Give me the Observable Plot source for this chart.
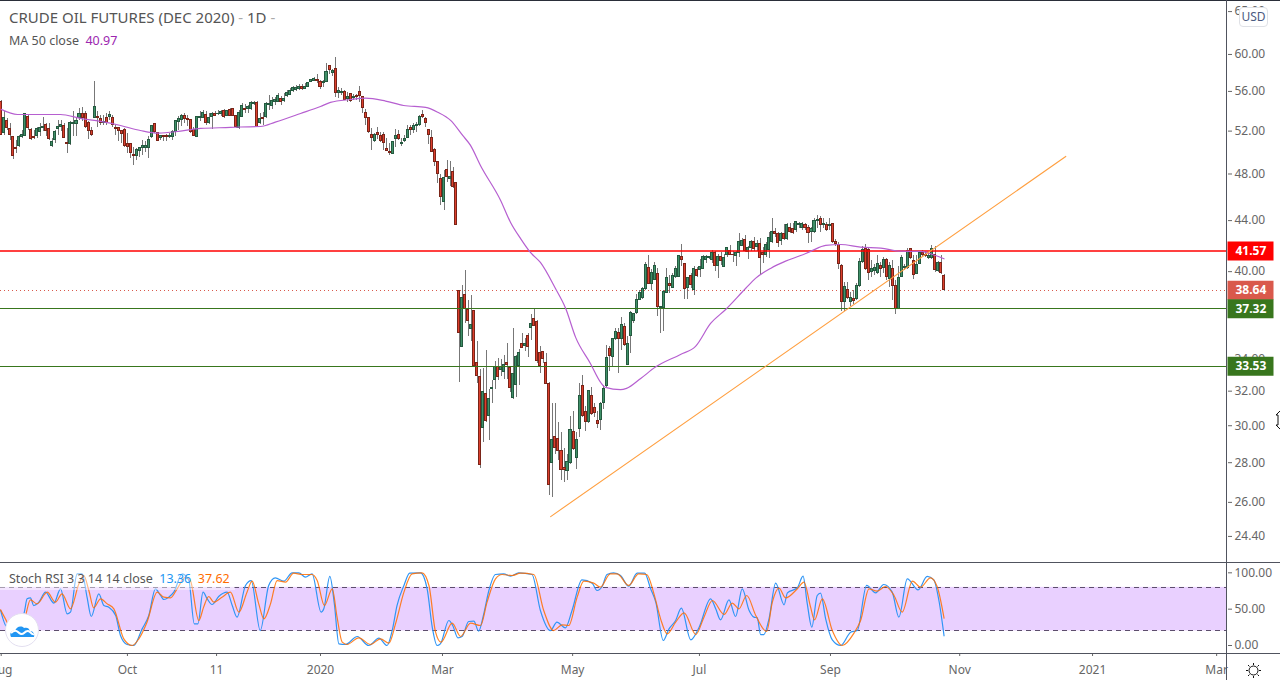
<!DOCTYPE html>
<html>
<head>
<meta charset="utf-8">
<script src="https://cdn.jsdelivr.net/npm/d3@7"></script>
<script src="https://cdn.jsdelivr.net/npm/@observablehq/plot@0.6"></script>
<style>
html,body{margin:0;padding:0;background:#fff;width:1280px;height:680px;overflow:hidden;font-family:"Noto Sans",sans-serif}
#chart{position:relative;width:1280px;height:680px;overflow:hidden}
#chart>div,#chart>svg{position:absolute}
.ttl{color:#555;white-space:nowrap;line-height:1}
</style>
</head>
<body>
<div id="chart"></div>
<script>
// Rows: open, high, low, close
const barsAugSep=[[54.86,55.02,51.61,51.61],[51.84,53.89,51.61,53.24],[52.98,53.24,52.1,52.26],[52.17,52.75,51.13,51.61],[51.39,51.45,49.31,49.6],[50.41,51.13,49.83,50.28],[50.54,51.61,50.48,51.45],[51.39,52.1,51.29,51.61],[51.55,53.73,51.45,53.66],[53.43,53.56,52.1,52.26],[52.1,52.26,51.06,51.26],[51.45,52.1,51.19,51.29],[51.52,52.36,51.29,52.17],[51.87,52.75,51.45,52.3],[52.3,53.34,51.94,52.36],[52.56,52.75,51.45,52.04],[52.17,52.75,51.13,51.26],[50.54,51.29,50.48,50.93],[51.16,52.1,50.8,51.87],[52.23,53.08,51.61,52.36],[52.36,53.08,51.94,52.62],[52.49,52.75,51.26,51.35],[50.9,52.26,49.89,50.77],[50.77,52.91,50.64,52.75],[52.69,53.89,51.45,52.82],[52.72,53.24,51.45,52.98],[53.3,54.21,53.08,53.66],[53.73,54.38,52.91,53.27],[53.73,53.89,52.26,52.43],[52.75,52.91,51.19,52.04],[52.04,52.36,51.45,51.65],[53.3,57.07,53.24,54.44],[53.43,53.89,52.33,53.3],[53.14,53.56,52.59,52.75],[52.75,53.56,52.59,52.85],[53.24,53.73,52.59,52.82],[53.4,53.89,53.08,53.63],[53.24,53.56,52.36,52.62],[52.3,52.59,51.61,52.23],[52.26,52.36,50.96,52.04]];
const barsOctNov=[[51.97,52.1,50.8,51.71],[52.1,52.26,50.48,50.57],[50.8,51.77,49.83,50.48],[50.74,50.8,49.44,49.89],[49.76,50.48,48.75,49.66],[49.6,50.31,49.18,50.22],[50.15,50.48,49.5,50.41],[50.41,51.13,49.66,50.6],[50.41,50.96,49.99,50.6],[50.41,51.45,49.44,51.19],[51.45,52.59,51.29,52.49],[52.65,52.75,51.77,51.94],[51.77,51.84,50.96,51.06],[51.29,51.61,51.06,51.52],[51.52,51.61,50.96,51.39],[51.55,51.71,50.96,51.45],[51.39,51.77,51.29,51.52],[51.45,52.1,51.13,51.94],[51.87,53.08,51.45,52.98],[52.85,53.4,52.1,53.17],[53.08,53.66,52.43,53.53],[53.53,53.73,52.75,53.14],[53.14,53.56,52.43,53.08],[53.08,53.17,51.77,51.94],[52.1,52.36,51.45,51.55],[51.45,53.47,51.39,53.34],[53.27,53.89,52.91,53.34],[53.3,53.99,53.24,53.82],[53.56,53.89,52.59,52.75],[52.75,53.73,52.69,53.3],[53.4,53.79,52.17,53.73],[53.73,53.89,53.4,53.53],[53.66,53.99,53.56,53.73],[53.66,54.05,53.47,53.92],[53.99,54.12,53.24,53.4],[53.47,54.05,53.4,53.95],[54.12,54.21,53.4,53.53],[54.15,54.21,53.4,53.47],[53.47,53.56,52.26,52.36],[52.26,54.05,52.17,53.79]];
const barsDecJan=[[53.36,54.75,53.33,54.51],[54.18,54.68,53.69,54.05],[54.15,54.51,53.75,54.35],[54.18,54.95,54.02,54.79],[54.75,54.95,54.51,54.79],[54.79,54.95,52.32,52.38],[52.8,53.69,52.64,53.19],[53.29,53.85,52.54,53.19],[53.36,54.85,53.19,54.68],[54.61,55.55,54.08,54.75],[54.48,55.37,54.18,55.02],[54.95,55.37,54.51,55.1],[54.92,55.8,54.85,55.55],[55.26,55.44,54.51,54.95],[54.99,55.8,54.85,55.26],[55.48,56.08,55.37,55.83],[55.62,56.26,55.55,56.08],[56,56.5,55.9,56.36],[56.19,56.62,56,56.36],[56.26,56.73,56.08,56.47],[56.47,56.7,56.08,56.22],[56.3,56.8,56.15,56.5],[56.47,56.97,56.36,56.9],[56.97,57.3,56.9,57.2],[57.1,57.5,57.03,57.3],[57.2,57.79,56.8,57.1],[57,57.13,56.22,56.5],[56.87,57.2,56.36,56.97],[57,58.96,56.93,58.08],[58.67,58.82,57.79,58.3],[57.97,58.3,57.57,58.23],[58.4,59.63,55.37,55.8],[55.87,56.36,55.26,56],[55.83,56.26,55.55,55.97],[55.9,56.08,55.02,55.16],[55.26,55.9,54.85,55.4],[55.72,55.8,54.85,54.99],[55.3,55.65,55.02,55.4],[55.51,55.72,55.02,55.37],[55.93,56.5,54.85,55.48]];
const barsFebMar=[[55.37,55.44,53.75,54.28],[53.79,54.18,52.54,53.26],[53.29,53.36,51.74,51.9],[51.65,52.22,50.17,51.36],[51.07,51.74,50.95,51.65],[51.84,52.32,51.17,51.62],[51.55,51.9,50.95,51.04],[51.65,51.9,50.17,50.85],[50.33,51.26,50.02,50.11],[50.05,50.79,49.72,49.93],[49.84,51.04,49.81,50.98],[51.23,52.16,50.48,51.55],[51.65,52.06,51.1,51.23],[50.76,51.26,50.54,50.89],[51.04,51.58,50.95,51.2],[51.33,52.54,51.26,52.06],[52.32,52.54,51.58,52.06],[52.13,52.7,51.74,52.51],[52.51,52.87,51.9,52.61],[52.61,53.52,52.45,53.42],[53.62,54.08,53.19,53.36],[53.23,53.36,52.32,52.77],[52.13,52.19,50.73,51.62],[51.36,52.06,49.93,50.02],[50.17,50.33,48.72,49.11],[49.08,49.11,47.18,48.03],[47.53,47.91,45.25,45.95],[45.53,48.3,44.84,47.62],[48.33,49.26,47.24,47.76],[47.59,49.11,46.89,47.73],[48.15,48.6,46.74,46.89],[47.18,47.24,43.62,43.65]];
const barsMarMay=[[38.55,38.6,32.5,35.65],[34.75,39,34.7,38.1],[38.3,40.1,36.3,37.33],[37.27,37.9,35.45,36.48],[35.95,38.25,35.1,36.2],[37.15,37.2,33.45,33.55],[33.75,35.1,32.45,32.95],[32.85,33.3,27.7,27.9],[29.85,33.4,29.1,31.95],[31.85,34.5,30.2,30.25],[30.55,32.1,29.2,31.55],[32.1,32.65,31.25,32.2],[32.65,33.85,32.1,33.45],[33.45,34,32.65,32.85],[33.28,33.95,32.9,33.5],[33.15,34.2,32.7,33.58],[33.75,35,32.7,33.58],[33.4,33.5,31.9,32.2],[31.6,36,31.5,33.05],[32.35,34.2,31.65,34.1],[33.55,34.6,32.35,34.35],[34.95,35.65,34.65,34.7],[34.8,35.3,34.45,34.95],[35.45,35.65,34.05,34.75],[36.03,36.9,35.2,36.3],[36.6,37.25,36.1,36.15],[36.43,36.5,33.7,33.85],[34.35,34.8,33.1,33.55],[34.4,34.45,33.7,33.95],[33.7,34.3,32.4,32.45],[32.45,32.5,26.35,26.85],[28,31.3,26.25,29.2],[29.4,31.3,28.45,28.8],[29.25,30.2,28.1,28.6],[28.6,29.65,27.1,27.6],[27.7,28.75,27,27.6],[27.55,28.45,27.1,28.05],[28,30.55,27.9,29.75],[29.65,30.8,28.65,28.7],[28.25,29.65,27.65,29.2],[29.8,32.45,29.35,31.7],[32.3,32.95,30.45,30.55],[30.8,31.1,29.7,30.2],[30.2,32.05,30.1,32],[31.7,32.2,30.6,30.65],[31,31.3,30.45,30.75],[30.25,30.8,29.85,30.1],[30.35,31.35,29.75,31.25]];
const barsMayJul=[[31.3,32.35,30.9,32.1],[32.3,34.85,32.2,34.07],[34.65,34.8,33.2,34.15],[34.1,35.3,33.5,35.25],[35.25,35.95,35.2,35.75],[35.7,35.95,33.05,35.25],[35.25,36.75,34.55,36.2],[36.05,36.3,34.8,34.85],[33.6,35.45,33.55,34.95],[35.5,37.1,34.35,37],[36.45,37,36.3,36.95],[37.05,38.3,36.95,37.95],[37.95,38.6,37.9,38.45],[38.1,38.85,38,38.75],[38.7,40.7,38.65,40.5],[40.3,41.2,39.05,39.1],[39.1,40.15,38.6,39.9],[39.4,40.7,39.35,40.4],[39.85,40.2,36.8,37.45],[37.4,37.5,35.65,37.45],[37.4,38.6,35.75,38.5],[38.45,40.2,38.4,39.5],[39.1,39.7,38.4,38.95],[38.8,39.85,38.75,39.7],[39.6,40.35,39.5,40.2],[39.6,41.2,39.55,41.15],[41.1,42.1,40.35,40.85],[40.55,40.6,38,38.7],[38.8,39.6,38,39.5],[39.7,39.85,38.75,39.05],[38.65,40.35,38.25,40.2],[40.1,40.3,39.6,39.7],[40.1,40.95,39.6,40.35],[40.2,41.2,40.15,41.1],[40.85,41.2,40.6,41.1],[41.05,41.15,40.95,41.1],[40.9,41.6,40.6,41.4],[41.45,41.55,40,40.45],[40.45,41.3,39.5,41.1],[41.1,41.45,40.45,40.8]];
const barsJulSep=[[40.35,41.3,40.3,41],[41.3,41.85,41.1,41.8],[41.6,42,41.25,41.3],[41.3,41.55,40.7,41.25],[41.15,41.55,40.4,41.4],[41.4,42.95,41.1,42.3],[42,42.55,41.9,42.35],[42.4,42.8,41.45,41.6],[41.5,41.9,40.95,41.8],[41.8,42.4,41.55,42.25],[42.3,42.65,41.55,41.7],[41.85,42.4,41.55,42.1],[42.15,42.55,39.7,41],[41.45,41.85,40.6,41.25],[41.25,42.25,41.1,42.05],[41.65,43.05,41,42.6],[42.3,44.15,42.15,43.05],[43.1,43.35,42.65,42.95],[42.95,43.05,41.85,42.2],[42.35,43.05,42,42.9],[42.9,43.65,42.4,42.5],[42.55,43.75,42.4,43.6],[43.4,43.75,42.95,43.1],[43.35,43.75,42.85,43],[43.2,43.9,43,43.85],[43.6,43.85,43.35,43.7],[43.4,43.85,43.2,43.7],[43.6,43.8,43.2,43.4],[43.4,43.6,42.15,43],[43.05,43.45,42.25,43.35],[43.05,44.15,42.95,44],[44,44.45,43.35,44.05],[44.15,44.3,43.05,43.6],[43.6,44.15,43.35,43.7],[43.65,43.85,43.15,43.2],[43.55,44.15,43.2,43.65],[43.75,43.8,42.15,42.25],[42.3,42.45,41.9,42.1]];
const barsSepOct=[[42.05,42.25,40.15,40.55],[40.4,40.5,37.1,37.8],[37.8,39.2,37.1,38.85],[38.65,39.2,38,38.1],[37.8,38.45,37.45,38.05],[38,38.6,37.6,37.9],[38,39.1,37.9,38.95],[38.95,41,38.85,40.75],[40.7,41.9,40.6,41.65],[41.7,42.1,40.1,40.2],[41.65,41.75,39.35,39.9],[40,40.85,39.6,40.2],[40.05,40.55,39.7,40.3],[39.9,41.2,39.8,40.6],[40.4,40.7,39.55,40.2],[40.25,41.1,39.85,40.9],[40.9,41,39.35,39.6],[39.45,40.7,38.8,40.45],[40.2,40.85,37.9,38.95],[38.95,39.35,36.95,37.32],[37.3,40.35,37.25,39.55],[39.6,41.2,39.55,41],[40.25,40.5,40.1,40.35],[40.3,41.75,40.15,41.55],[41.7,41.8,40.95,41],[40.8,41.25,39.4,39.75],[39.85,41.25,39.8,40.5],[40.55,41.5,40.5,41.4],[41.45,41.6,41.15,41.3],[41.3,41.5,41.1,41.15],[41,41.4,40.95,41.2],[41,42,40.95,41.75],[41.3,41.9,39.95,40.1],[40.05,40.75,39.95,40.65],[40.65,41.25,39.8,39.9],[39.7,39.8,38.55,38.64]];

const maBars=[0,5.4,9.7,19.7,26.3,33,39.6,46.2,52.2,59.5,66.2,76.1,79.4,86.1,91,99.4,106,109.3,116,121,127.6,133.6,140.9,144.9,149.2,153.2,155.8,159.1,165.8,169.1,172.4,175.7,179,184,187.4,190.7,195.6,199,200.6,205.6,207.6,212.3,217.2,225.5,230.5,235.5,240.5,247.1,250.4,255.4,260.4,265.4,268.7,273.7,278.7,285.3,292,298.6,305.2,310.2,313];
const maValues=[54.15,53.64,53.64,53.64,53.25,52.95,52.55,52.06,51.8,52,52.26,52.36,52.4,52.45,52.88,53.74,54.45,54.86,55.16,55.3,55,54.55,54.35,53.87,53.05,51.58,50.63,48.77,45.69,43.85,42.56,41.46,40.69,38.76,37.34,35.38,33.7,32.53,32.23,32.09,32.17,32.77,33.47,34.27,34.79,36.31,37.27,38.76,39.5,40.24,40.79,41.22,41.54,42.01,42.08,41.87,41.8,41.56,41.54,41.22,40.97];

const trendBars=[182.4,353.4];
const trendPrices=[25.32,49.6];

const levelPrices=[41.57,38.64,37.32,33.53];
const levelColors=["#ff0000","#d9594c","#38761d","#38761d"];
const priceTicks=[65,60,56,52,48,44,40,34,32,30,28,26,24.4];
const stochTicks=[100,50,0];
const stochBands=[20,80];
const timeTicks=[0,41.9,71.5,106,146.5,189.7,231.8,275.3,318.2,362.3,403.5];
const timeLabels=["Aug","Oct","11","2020","Mar","May","Jul","Sep","Nov","2021","Mar"];

const stochKBars=[-.2,2,4.7,7.5,8.6,9.7,10.8,12.5,14.7,17.5,19.7,21.9,23,25.2,26.9,28.5,29.9,32.4,34.1,35.7,38,39.6,41.8,44,46.8,49,51.2,52.9,54,55.6,57.3,60.1,62.3,64.1,65.3,67,68.4,70,72.2,75,76.7,78.3,81.1,83,86,88.8,91,93.8,96.6,98.8,101,103.2,106.2,107.1,109.1,110.6,112.1,114.3,118.2,122,125.4,128.1,129.8,131.4,133.7,135.6,139.2,141.4,143.1,144.7,145.8,148.6,149.9,151.6,153,155.2,156.9,158.5,160.2,161.9,164.1,166.8,169.1,171.8,176.2,179,182.3,184.5,187.3,189.5,192.8,196.2,197.8,199.5,201.1,203.3,205.6,208.3,211.1,213.6,215.6,217.3,219.8,221.7,223.9,225.8,228.9,231.7,235.5,237.2,238.8,241.6,243.8,246,248.3,249.9,251,252.1,253.2,254.9,257.1,259.9,261,264.3,266.2,267.6,269.1,270.9,272,273.7,275.9,278.7,282,284.2,287.3,290.3,293,295.8,298,300.8,304.4,307.4,309.6,311.3,313];
const stochKValues=[48.2,25,36.7,43.6,64.2,65.6,55,59.6,73.4,58.3,78,43.6,45.9,98.6,98.6,66.5,39.9,71.1,55,52.8,41.3,13.8,1.4,0,22.9,41.3,78,68.8,63.3,66.5,73.4,98.6,89.4,29.8,29.8,73.4,64.2,56.4,67.4,73.4,55,39,82.6,89.4,20.6,82.6,93.1,88.5,100,100,94,98.6,45.9,50.5,95,57.3,2.3,1.4,12.4,0,10.1,0,20.6,55,82.6,99.5,100,78,25.2,0,2.3,34.4,27.5,10.6,12.4,33,33.5,19.7,43.6,75.7,97.7,98.6,95.4,100,97.7,48.2,20.6,32.1,24.3,48.2,90.4,85.8,75.7,81.2,97.7,100,96.3,81.7,99.5,99.5,78,59.6,6.9,22.9,34.4,51.4,7.8,25.2,64.2,50.5,35.3,62.8,39.9,78,48.2,39,38,15.1,15.1,36.7,85.8,56,72.5,79.4,95.4,57.3,25.2,68.8,72,36.7,7.8,0,18.3,20.6,82.6,72.5,83.9,73.4,39,91.7,76.6,95,90.4,61.9,13.36];
const stochDBars=[-.2,1.4,3.1,7.5,9.7,11.9,15.3,18,20.2,23,25.8,27.4,29.1,30.7,33,35.2,37.4,40.7,43.5,45.7,48.4,51.8,54,56.2,58.4,61.2,62.8,65.6,67.2,68.9,70.6,73.3,76.1,78.9,81.6,83.3,85.5,87.2,89.4,91.6,94.4,97.1,99.9,103.2,104.9,107.3,109.9,111.5,113.2,114.8,118.7,122.6,125.9,128.7,130.9,133.7,136.4,139.7,142,144.2,146,149.7,152.5,155.8,159.1,161.3,164.1,166.3,169.6,172.4,176.8,180.1,183.4,186.2,188.4,191.2,193.4,196.7,198.9,202.2,204.5,208.3,211.6,214.3,216.7,218.9,221.1,223.9,226.7,230.6,233.3,236.1,240,242.7,244.9,247.5,250.5,254.1,256,258.2,260.4,264.3,266.5,268.7,270,272.6,275.9,279.2,283.1,285.3,288.1,290.8,293.6,296.4,299.1,302.5,305.2,308.5,310.7,313];
const stochDValues=[49.1,36.7,25.2,34.4,62.8,57.3,73.4,59.6,71.1,50.5,84.9,96.3,75.7,51.8,64.2,57.3,50.5,9.2,0,9.2,32.1,73.4,66.5,65.6,78,94,89.4,34.4,52.8,67.4,59.6,66.5,73.4,45.9,73.4,88.5,57.3,36.7,57.3,89.4,87.2,99.5,97.7,97.7,89.4,55,78,39,4.6,1.4,10.6,1.4,9.2,3.2,29.8,73.4,98.6,100,82.6,18.3,4.6,30.7,12.4,30.7,27.5,59.6,91.7,97.7,96.3,99.5,97.7,48.2,20.6,28.4,27.5,66.5,88.5,85.8,80.3,98.6,98.6,82.6,98.6,97.7,71.1,36.7,16.1,32.1,45,15.1,39,61.9,42.7,58.3,50.5,68.8,41.3,19.3,59.6,78.9,65.6,78,87.2,52.8,35.3,64.2,20.6,0,17,34.4,78,74.8,81.2,68.8,45.9,88.5,80.3,93.1,81.2,37.62];

const bars=[...barsAugSep,...barsOctNov,...barsDecJan,...barsFebMar,...barsMarMay,...barsMayJul,...barsJulSep,...barsSepOct]
  .map(([open,high,low,close],i)=>({i,open,high,low,close}));
const upBars=bars.filter(d=>d.close>=d.open), downBars=bars.filter(d=>d.close<d.open);
const zip=(xs,ys)=>xs.map((x,i)=>({x,y:ys[i]}));

const xDomain=[-0.23,407.1];
const axisFont='"Noto Sans",sans-serif';
const halfBar=0.34;
const labelBox={draw(ctx){ctx.rect(0,-9.5,46,19)}};
const chart=document.getElementById("chart");
const crisp={shapeRendering:"crispEdges"};

const price=Plot.plot({
  width:1280,height:562,marginLeft:0,marginRight:53,marginTop:0,marginBottom:0,
  style:{fontFamily:axisFont,fontSize:"12px",background:"transparent",overflow:"visible"},
  x:{domain:xDomain,axis:null},
  y:{type:"log",domain:[23.24,66.36],axis:null},
  marks:[
    Plot.ruleY([levelPrices[1]],{stroke:levelColors[1],strokeDasharray:"1,3",...crisp}),
    Plot.ruleX(bars,{x:"i",y1:"low",y2:"high",stroke:"#777",...crisp}),
    Plot.rect(upBars,{x1:d=>d.i-halfBar,x2:d=>d.i+halfBar,y1:"open",y2:"close",fill:"#3f9068",stroke:"#24593f",...crisp}),
    Plot.rect(downBars,{x1:d=>d.i-halfBar,x2:d=>d.i+halfBar,y1:"open",y2:"close",fill:"#dc3f2d",stroke:"#7a2418",...crisp}),
    Plot.ruleY([levelPrices[0]],{stroke:levelColors[0],strokeWidth:1.5}),
    Plot.ruleY(levelPrices.slice(2),{stroke:levelColors[2],...crisp}),
    Plot.line(zip(maBars,maValues),{x:"x",y:"y",stroke:"#b65fd0",strokeWidth:1.2,curve:"monotone-x"}),
    Plot.line(zip(trendBars,trendPrices),{x:"x",y:"y",stroke:"#ff9f40",strokeWidth:1.1}),
    Plot.axisY(priceTicks,{anchor:"right",tickSize:4,tickPadding:3,tickFormat:d=>d.toFixed(2),label:null,color:"#666",fontSize:12}),
    Plot.dot(levelPrices,{y:d=>d,frameAnchor:"right",symbol:labelBox,fill:(d,i)=>levelColors[i],stroke:"none"}),
    Plot.text(levelPrices,{y:d=>d,frameAnchor:"right",dx:8,textAnchor:"start",text:d=>d.toFixed(2),fill:"#fff",fontWeight:"bold",fontSize:12})
  ]
});
price.style.left="0px";price.style.top="0px";
price.style.position="absolute";
chart.appendChild(price);

const stoch=Plot.plot({
  width:1280,height:118,marginLeft:0,marginRight:53,marginTop:0,marginBottom:27,
  style:{fontFamily:axisFont,fontSize:"12px",background:"transparent"},
  x:{domain:xDomain,axis:null},
  y:{domain:[-11,114.2],axis:null},
  marks:[
    Plot.rect([stochBands],{y1:d=>d[0],y2:d=>d[1],fill:"#e9d0ff"}),
    Plot.ruleY(stochBands,{stroke:"#5d4e6d",strokeDasharray:"5,4",...crisp}),
    Plot.line(zip(stochKBars,stochKValues),{x:"x",y:"y",stroke:"#2f95f5",strokeWidth:1.2,curve:"monotone-x"}),
    Plot.line(zip(stochDBars,stochDValues),{x:"x",y:"y",stroke:"#ff6d00",strokeWidth:1.2,strokeOpacity:.85,curve:"monotone-x"}),
    Plot.axisY(stochTicks,{anchor:"right",tickSize:4,tickPadding:3,tickFormat:d=>d.toFixed(2),label:null,color:"#666",fontSize:12}),
    Plot.axisX(timeTicks,{anchor:"bottom",tickSize:3,tickPadding:9,tickFormat:(d,i)=>timeLabels[i],label:null,color:"#666",fontSize:12})
  ]
});
stoch.style.left="0px";stoch.style.top="562px";
stoch.style.position="absolute";
chart.appendChild(stoch);

function addDiv(css,html,cls){const e=document.createElement("div");e.style.cssText=css;if(html)e.innerHTML=html;if(cls)e.className=cls;chart.appendChild(e);return e;}
addDiv("left:0;top:0;width:1280px;height:1px;background:#2a2e39");
addDiv("left:0;top:562px;width:1280px;height:1px;background:#50535e");
addDiv("left:0;top:653px;width:1280px;height:1px;background:#50535e");
addDiv("left:1226px;top:0;width:1px;height:680px;background:#50535e");
addDiv("left:9px;top:10px;font-size:15px","CRUDE OIL FUTURES (DEC 2020)<span style='color:#aaa'> - </span>1D<span style='color:#aaa'> -</span>","ttl");
addDiv("left:9px;top:35px;font-size:12.5px","MA 50 close&nbsp; <span style='color:#9c27b0'>40.97</span>","ttl");
addDiv("left:0;top:570px;height:20px;width:235px;background:rgba(255,255,255,.45)");
addDiv("left:9px;top:573px;font-size:12.5px","Stoch RSI 3 3 14 14 close&nbsp; <span style='color:#2196f3'>13.36</span>&nbsp; <span style='color:#ff6d00'>37.62</span>","ttl");
addDiv("left:1239px;top:7px;width:27px;height:18px;border:1px solid #dfe1e6;border-radius:4px;background:#fff;color:#4a5a80;font-size:12px;line-height:18px;text-align:center","USD");

const ns='<svg xmlns="http://www.w3.org/2000/svg" ';
addDiv("left:5px;top:613px;width:34px;height:34px",ns+'width="34" height="34"><circle cx="17" cy="17" r="16.5" fill="#fff" stroke="#e3dff0"/><path d="M6 24c-2-4 1-7 4-6 1-4 6-6 9-3 3-1 5 0 6 3 3 0 5 3 4 6z" fill="#2196f3"/><path d="M6 20c3-3 5-3 7-1s4 3 6 1 4-3 6-1 3 3 4 2" fill="none" stroke="#fff" stroke-width="2"/></svg>');
addDiv("left:1246px;top:661px;width:15px;height:15px",ns+'width="15" height="15" fill="none" stroke="#111"><circle cx="7.5" cy="7.5" r="4.5"/><path d="M7.5 0v2M7.5 13v2M0 7.5h2M13 7.5h2M2 2l1.5 1.5M11.5 11.5L13 13M13 2l-1.5 1.5M3.5 11.5L2 13"/></svg>');
addDiv("left:1275px;top:410px;width:5px;height:20px",ns+'width="5" height="20" fill="#fff" stroke="#111"><path d="M5 1L1 5h2v10H1l4 4"/></svg>');
</script>
</body>
</html>
